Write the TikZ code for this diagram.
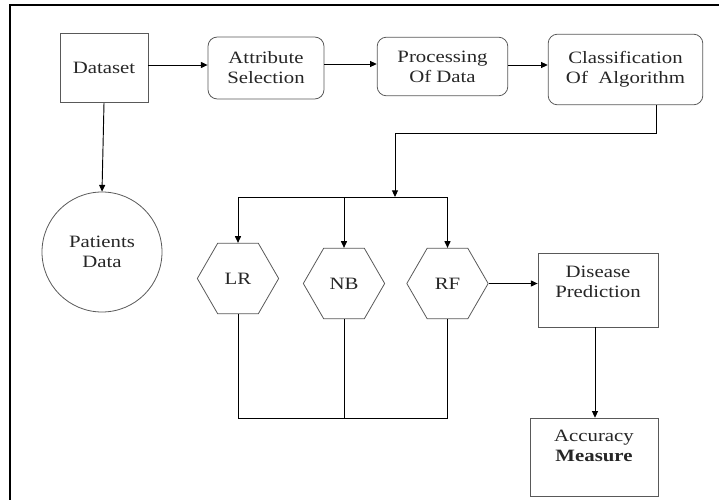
\documentclass[tikz,border=0pt]{standalone}
\usepackage{fontspec}
\setmainfont{Liberation Serif}[FakeStretch=1.2]
\usetikzlibrary{shapes.geometric, arrows.meta, positioning, calc}

\begin{document}
\begin{tikzpicture}[x=0.75pt, y=-0.75pt, font=\fontsize{13}{15}\selectfont,
    box/.style={draw=black!65, line width=0.6pt, align=center, text=black!85, inner sep=0pt},
    rbox/.style={box, rounded corners=7pt},
    hexa/.style={box, regular polygon, regular polygon sides=6, minimum size=61pt},
    arr/.style={-{Triangle[length=5pt, width=4.5pt]}, line width=0.7pt}]
    \useasboundingbox (0,0) rectangle (719,500);
    \draw[line width=1.5pt] (10,500) -- (10,5) -- (719,5);
    % top row
    \node[box, minimum width=66pt, minimum height=52pt] (data) at (104,68) {Dataset};
    \node[rbox, minimum width=87pt, minimum height=46.5pt] (attr) at (266,68) {Attribute\\Selection};
    \node[rbox, minimum width=98pt, minimum height=44pt] (proc) at (442.5,66.5) {Processing\\Of Data};
    \node[rbox, minimum width=116pt, minimum height=53pt] (cls) at (625.5,69.5) {Classification\\Of\ \ Algorithm};
    \node[box, circle, minimum size=90pt] (pat) at (102,252) {Patients\\Data};
    % algorithms
    \node[hexa] (lr) at (238,278.5) {LR};
    \node[hexa] (nb) at (344,283.5) {NB};
    \node[hexa] (rf) at (447.5,283.5) {RF};
    \node[box, minimum width=90pt, minimum height=55.5pt,
        label={[align=center, text=black!85, yshift=6.4pt]center:Disease\\Prediction}] (dis) at (598,290) {};
    \node[box, minimum width=96pt, minimum height=59pt,
        label={[align=center, text=black!85, yshift=8.6pt]center:Accuracy\\\textbf{Measure}}] (acc) at (594,457.5) {};
    \coordinate (split) at (395,197);
    \coordinate (bot) at (344,418);
    \draw[arr] (data.east |- 0,65) -- (attr.west |- 0,65);
    \draw[arr] (attr.east |- 0,64) -- (proc.west |- 0,64);
    \draw[arr] (proc.east |- 0,65) -- (cls.west |- 0,65);
    \draw[arr] (data.south) -- (pat.north);
    \draw[arr] ([xshift=23pt]cls.south) -- ++(0,28) -| (split);
    \draw[arr] (split) -| (lr.north);
    \draw[arr] (split) -| (nb.north);
    \draw[arr] (split) -| (rf.north);
    \draw[arr] (rf.east) -- (rf.east -| dis.west);
    \draw[arr] (dis.south -| 595,0) -- (acc.north -| 595,0);
    \draw[line width=0.6pt] (lr.south) -- (lr.south |- bot) -- (rf.south |- bot) -- (rf.south);
    \draw[line width=0.6pt] (nb.south) -- (nb.south |- bot);
\end{tikzpicture}
\end{document}
